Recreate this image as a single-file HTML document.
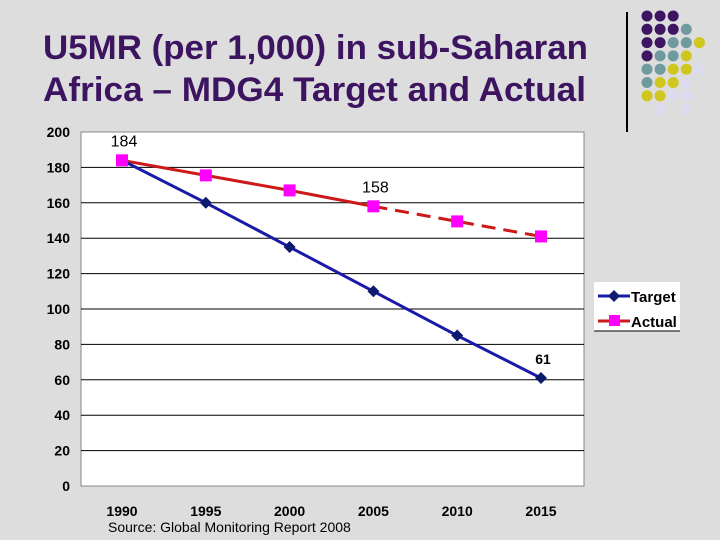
<!DOCTYPE html>
<html><head><meta charset="utf-8"><style>
body{margin:0;width:720px;height:540px;background:#dddddd;overflow:hidden;font-family:"Liberation Sans",Arial,sans-serif}
</style></head><body>
<svg width="720" height="540" style="position:absolute;left:0;top:0">
<text x="43" y="59" font-size="34" font-weight="bold" fill="#3c1460" textLength="545" lengthAdjust="spacingAndGlyphs">U5MR (per 1,000) in sub-Saharan</text>
<text x="43" y="101" font-size="34" font-weight="bold" fill="#3c1460" textLength="543" lengthAdjust="spacingAndGlyphs">Africa – MDG4 Target and Actual</text>
<line x1="627" y1="12" x2="627" y2="132" stroke="#000" stroke-width="2"/>
<g id="dots"></g>
<rect x="81" y="132" width="503" height="354" fill="#fff" stroke="#888"/>
<g id="grid"></g><g id="series"></g>
<g>
<rect x="594" y="282" width="86" height="49" fill="#fff"/>
<line x1="594" y1="331" x2="680" y2="331" stroke="#000"/>
<line x1="598" y1="296" x2="630" y2="296" stroke="#1a1aa8" stroke-width="3"/>
<path d="M614 290 L620 296 L614 302 L608 296Z" fill="#0d1a6e"/>
<text x="631" y="302" font-size="15" font-weight="bold">Target</text>
<line x1="598" y1="321" x2="630" y2="321" stroke="#cc1a1a" stroke-width="3"/>
<rect x="609" y="315" width="11" height="11" fill="#ff00ff"/>
<text x="631" y="327" font-size="15" font-weight="bold">Actual</text>
</g>
<text x="108" y="532" font-size="14">Source: Global Monitoring Report 2008</text>
</svg>
<script>
const years=["1990","1995","2000","2005","2010","2015"];
const target=[184,160,135,110,85,61];
const actual=[184,175.5,167,158,149.5,141];
const yTicks=[0,20,40,60,80,100,120,140,160,180,200];
const ns="http://www.w3.org/2000/svg";
const X=i=>122+i*83.8, Y=v=>486-v*1.77;
function mk(t,a,p){const e=document.createElementNS(ns,t);for(const k in a)e.setAttribute(k,a[k]);p.appendChild(e);return e;}
const g=document.getElementById('grid'),s=document.getElementById('series');
yTicks.forEach(v=>{
 if(v>0&&v<200){const l=mk('line',{x1:81,x2:584,y1:Y(v),y2:Y(v),stroke:'#000'},g);
 
 }
 const t=mk('text',{x:70,y:Y(v)+5,'text-anchor':'end','font-size':14,'font-weight':'bold'},g);t.textContent=v;
 
 
});
years.forEach((y,i)=>{const t=mk('text',{x:X(i),y:516,'text-anchor':'middle','font-size':14,'font-weight':'bold'},g);t.textContent=y;
 
 });
const solid=actual.slice(0,4).map((v,i)=>X(i)+','+Y(v)).join(' ');
const dash=actual.slice(3).map((v,i)=>X(i+3)+','+Y(v)).join(' ');
const a1=mk('polyline',{points:solid,fill:'none',stroke:'#cc1a1a','stroke-width':3},s);


const a2=mk('polyline',{points:dash,fill:'none',stroke:'#cc1a1a','stroke-width':3,'stroke-dasharray':'14,8'},s);


const tl=mk('polyline',{points:target.map((v,i)=>X(i)+','+Y(v)).join(' '),fill:'none',stroke:'#1a1aa8','stroke-width':3},s);


target.forEach((v,i)=>{const x=X(i),y=Y(v);const p=mk('path',{d:`M${x} ${y-6}L${x+6} ${y}L${x} ${y+6}L${x-6} ${y}Z`,fill:'#0d1a6e'},s);
 
 });
actual.forEach((v,i)=>{const r=mk('rect',{x:X(i)-6,y:Y(v)-6,width:12,height:12,fill:'#ff00ff'},s);
 
 });
[[0,actual[0],16,'184'],[3,actual[3],16,'158'],[5,target[5],14,'61']].forEach(([i,v,fs,txt])=>{
 const t=mk('text',{x:X(i)+2,y:Y(v)-14,'text-anchor':'middle','font-size':fs,'font-weight':fs==14?'bold':'normal'},s);t.textContent=txt;
 
 });
const C={P:'#3d1560',T:'#6f9a9e',Y:'#cfc61e',L:'#dcdcee'};
const rows=["PPP","PPPT","PPTTY","PTTY","TTYYL","TYYL","YYLL"," L L"];
const d=document.getElementById('dots');
rows.forEach((r,ri)=>[...r].forEach((c,ci)=>{if(c===' ')return;
 mk('circle',{cx:647+ci*13.1,cy:16+ri*13.3,r:5.5,fill:C[c]},d);}));
</script>
</body></html>
